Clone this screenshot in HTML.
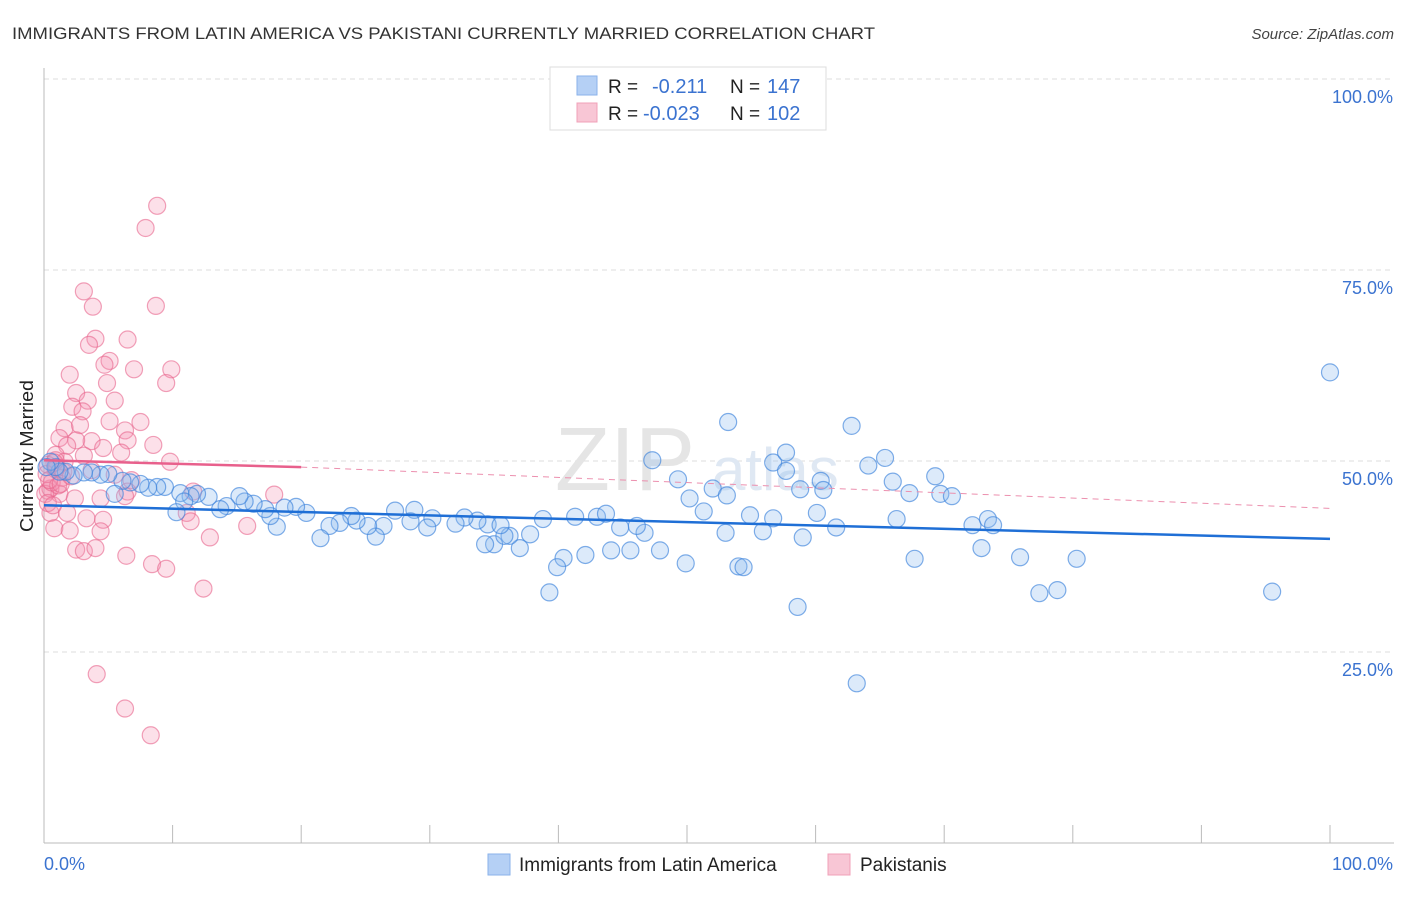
<!DOCTYPE html>
<html><head><meta charset="utf-8"><style>
body{margin:0;background:#fff;font-family:"Liberation Sans",sans-serif;}
svg text{font-family:"Liberation Sans",sans-serif;}
</style></head><body>
<svg id="chart" width="1406" height="892" xmlns="http://www.w3.org/2000/svg">
<text x="12" y="39" font-size="17" fill="#333" textLength="863" lengthAdjust="spacingAndGlyphs">IMMIGRANTS FROM LATIN AMERICA VS PAKISTANI CURRENTLY MARRIED CORRELATION CHART</text>
<text x="1394" y="39" font-size="15" fill="#444" text-anchor="end" font-style="italic">Source: ZipAtlas.com</text>
<text transform="translate(33,456) rotate(-90)" font-size="18" fill="#222" text-anchor="middle" textLength="152" lengthAdjust="spacingAndGlyphs">Currently Married</text>
<g id="grid"></g>
<text x="555" y="490" font-size="90" fill="#e5e5e5" font-family="Liberation Serif">ZIP</text>
<text x="712" y="490" font-size="60" fill="#dfe8f3">atlas</text>
<g id="points"></g>
<g id="trends"></g>
<g>
<rect x="550" y="67" width="276" height="63" fill="#fff" stroke="#ddd"/>
<rect x="577" y="76" width="20" height="19" fill="#b5d0f5" stroke="#8ab2ea"/>
<rect x="577" y="103" width="20" height="19" fill="#f8c6d5" stroke="#f0a0b8"/>
<text x="608" y="93" font-size="19" fill="#222">R =</text>
<text x="652" y="93" font-size="20" fill="#3b73d0">-0.211</text>
<text x="730" y="93" font-size="19" fill="#222">N =</text>
<text x="767" y="93" font-size="20" fill="#3b73d0">147</text>
<text x="608" y="120" font-size="19" fill="#222">R =</text>
<text x="643" y="120" font-size="20" fill="#3b73d0">-0.023</text>
<text x="730" y="120" font-size="19" fill="#222">N =</text>
<text x="767" y="120" font-size="20" fill="#3b73d0">102</text>
</g>
<g>
<rect x="488" y="854" width="22" height="21" fill="#b5d0f5" stroke="#8ab2ea"/>
<text x="519" y="871" font-size="19" fill="#222">Immigrants from Latin America</text>
<rect x="828" y="854" width="22" height="21" fill="#f8c6d5" stroke="#f0a0b8"/>
<text x="860" y="871" font-size="19" fill="#222">Pakistanis</text>
</g>
</svg>
<script>
const yTicks=[25,50,75,100];
const yTickLabels=["25.0%","50.0%","75.0%","100.0%"];
const blueX=[100,53.2,62.8,47.3,56.7,57.7,57.7,64.1,65.4,69.3,66,60.4,60.6,58.8,49.3,52,53.1,50.2,51.3,69.7,70.6,67.3,53,54.9,56.7,60.1,55.9,66.3,72.2,73.4,73.8,61.6,59,75.9,80.3,72.9,67.7,54,54.4,58.6,63.2,77.4,78.8,95.5,49.9,47.9,45.6,44.1,42.1,40.4,39.9,39.3,46.7,46.1,44.8,43,43.7,41.3,38.8,37.8,37,35,34.3,36.2,35.8,34.5,35.5,33.7,32.7,32,30.2,29.8,28.8,28.5,27.3,26.4,25.8,25.2,24.3,23.9,23,22.2,21.5,20.4,19.6,18.7,18.1,17.6,17.2,16.3,15.6,15.2,14.2,13.7,12.8,11.9,11.4,10.6,10.9,10.3,9.4,8.8,8.1,7.5,6.7,6.1,5.5,5,4.4,3.7,3.1,2.3,1.7,1.2,0.9,0.5,0.2];
const blueY=[61.6,55.1,54.6,50.1,49.8,51.1,48.7,49.4,50.4,48,47.3,47.4,46.2,46.3,47.6,46.4,45.5,45.1,43.4,45.7,45.4,45.8,40.6,42.9,42.5,43.2,40.8,42.4,41.6,42.4,41.6,41.3,40,37.4,37.2,38.6,37.2,36.2,36.1,30.9,20.9,32.7,33.1,32.9,36.6,38.3,38.3,38.3,37.7,37.3,36.1,32.8,40.6,41.5,41.3,42.7,43.1,42.7,42.4,40.4,38.6,39.1,39.1,40.2,40.2,41.7,41.6,42.2,42.6,41.8,42.5,41.3,43.6,42.1,43.5,41.5,40.1,41.5,42.2,42.8,41.9,41.5,39.9,43.2,44,43.9,41.4,42.8,43.7,44.4,44.7,45.4,44.1,43.7,45.3,45.7,45.4,45.8,44.7,43.3,46.6,46.6,46.5,47,47.2,47.4,45.7,48.3,48.2,48.5,48.5,48.1,48.6,48.6,49.2,49.9,49.2];
const pinkX=[8.8,7.9,3.1,3.8,8.7,4,6.5,3.5,5.1,4.7,7,9.9,2,9.5,4.9,2.5,5.5,3.4,2.2,3,5.1,7.5,1.6,2.8,6.3,6.5,8.5,3.7,1.2,2.5,1.8,4.6,6,3.1,0.9,9.8,1.6,3.7,5.5,6.8,0.3,1.2,2.4,4.4,6.5,11.6,17.9,0.5,1.8,3.3,4.6,6.3,11.1,11.4,15.8,0.8,2,4.4,12.9,2.5,3.1,4,8.4,6.4,9.5,12.4,4.1,6.3,8.3,0.3,0.9,1.4,0.5,0.1,0.9,0.2,0.6,1.0,1.5,0.3,0.7,1.1,0.4,0.8,1.3,2.1];
const pinkY=[83.4,80.5,72.2,70.2,70.3,66,65.9,65.2,63.1,62.6,62,62,61.3,60.2,60.2,58.9,57.9,57.9,57.1,56.5,55.2,55.1,54.3,54.7,54,52.7,52.1,52.6,53,52.7,52,51.7,51.1,50.7,50.8,49.9,49.9,48.8,48.2,47.5,46.1,45.7,45.1,45.1,46,46,45.6,43.2,43.2,42.5,42.3,45.4,43.2,42.1,41.5,41.2,40.9,40.8,40,38.4,38.2,38.6,36.5,37.6,35.9,33.3,22.1,17.6,14.1,49.5,48.9,47.8,46.4,45.7,50.1,48.3,47.2,49.2,48.6,44.5,44.2,46.8,47.5,49.8,47,48];
const X0=44,X1=1330,Y0=843,Y100=79;
const sx=v=>X0+(X1-X0)*v/100, sy=v=>Y0-(Y0-Y100)*v/100;
const NS="http://www.w3.org/2000/svg";
function mk(tag,attrs,parent){const e=document.createElementNS(NS,tag);for(const k in attrs)e.setAttribute(k,attrs[k]);parent.appendChild(e);return e;}
const grid=document.getElementById('grid');
yTicks.forEach((t,i)=>{
  const l=mk('line',{x1:44,x2:1394,y1:sy(t),y2:sy(t),stroke:'#ddd','stroke-dasharray':'5,4'},grid);
  
  
  const tx=mk('text',{x:1393,y:sy(t)+24,'font-size':18,fill:'#3b73d0','text-anchor':'end'},grid);
  tx.textContent=yTickLabels[i];
  
  
});
const ax=mk('line',{x1:44,x2:1394,y1:843,y2:843,stroke:'#bbb'},grid);


const ay=mk('line',{x1:44,x2:44,y1:68,y2:843,stroke:'#bbb'},grid);


for(let i=0;i<=10;i++){const t=mk('line',{x1:sx(i*10),x2:sx(i*10),y1:825,y2:843,stroke:'#bbb'},grid);

}
[["0.0%",44,"start"],["100.0%",1393,"end"]].forEach(a=>{const t=mk('text',{x:a[1],y:870,'font-size':18,fill:'#3b73d0','text-anchor':a[2]},grid);t.textContent=a[0];

});
const pts=document.getElementById('points');
pinkX.forEach((x,i)=>{const c=mk('circle',{cx:sx(x),cy:sy(pinkY[i]),r:8.5,fill:'rgba(244,143,177,0.28)',stroke:'rgba(232,100,140,0.6)','stroke-width':1.2},pts);

});
blueX.forEach((x,i)=>{const c=mk('circle',{cx:sx(x),cy:sy(blueY[i]),r:8.5,fill:'rgba(140,185,240,0.3)',stroke:'rgba(60,130,220,0.65)','stroke-width':1.2},pts);

});
const tr=document.getElementById('trends');
const b=mk('line',{x1:sx(0),y1:sy(44.2),x2:sx(100),y2:sy(39.8),stroke:'#1f6fd6','stroke-width':2.5},tr);


const pd=mk('line',{x1:sx(20),y1:sy(49.2),x2:sx(100),y2:sy(43.8),stroke:'#ec8fae','stroke-width':1,'stroke-dasharray':'6,5'},tr);


const p=mk('line',{x1:sx(0),y1:sy(50.1),x2:sx(20),y2:sy(49.2),stroke:'#e8608c','stroke-width':2.5},tr);


</script>
</body></html>
